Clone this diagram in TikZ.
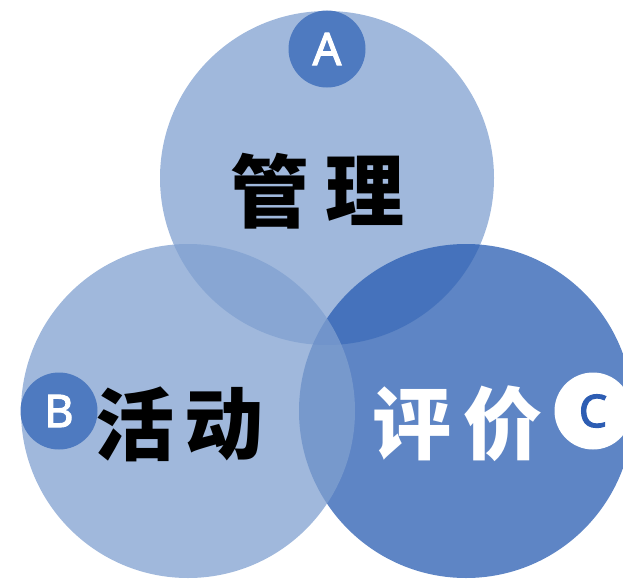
\documentclass[tikz,border=0pt]{standalone}
\usepackage{fontspec}
\newfontfamily\cjk{Noto Sans CJK SC}
\newfontfamily\latinsans[FakeBold=2.5]{Noto Sans}
\definecolor{lightblue}{HTML}{80A0D0}
\definecolor{darkblue}{HTML}{285CB1}
\definecolor{badgeblue}{HTML}{4E7AC0}
\definecolor{letterblue}{HTML}{2D5DB3}
\begin{document}
\begin{tikzpicture}[x=1pt,y=-1pt,
  bigcircle/.style={circle,minimum size=334pt,inner sep=0pt,fill opacity=0.75},
  badge/.style={circle,minimum size=77pt,inner sep=0pt,font=\latinsans\fontsize{45}{45}\selectfont},
  word/.style={inner sep=0pt,font=\cjk\bfseries\fontsize{79}{79}\selectfont}]
\useasboundingbox (0,0) rectangle (623,578);
\node[bigcircle,fill=lightblue] (top) at (327,178) {};
\node[bigcircle,fill=darkblue] (right) at (466,411) {};
\node[bigcircle,fill=lightblue] (left) at (188,411) {};
\node[badge,fill=badgeblue,text=white] (a) at (327,49) {A};
\node[badge,fill=badgeblue,text=white] (b) at (59,411) {B};
\node[badge,fill=white,text=letterblue] (c) at (593,411) {C};
\node[word,text=black] (g1) at (270,191) {管};
\node[word,text=black] (g2) at (365,191) {理};
\node[word,text=black] (h1) at (135,424) {活};
\node[word,text=black] (h2) at (224,424) {动};
\node[word,text=white] (p1) at (412,424) {评};
\node[word,text=white] (p2) at (503,424) {价};
\end{tikzpicture}
\end{document}
